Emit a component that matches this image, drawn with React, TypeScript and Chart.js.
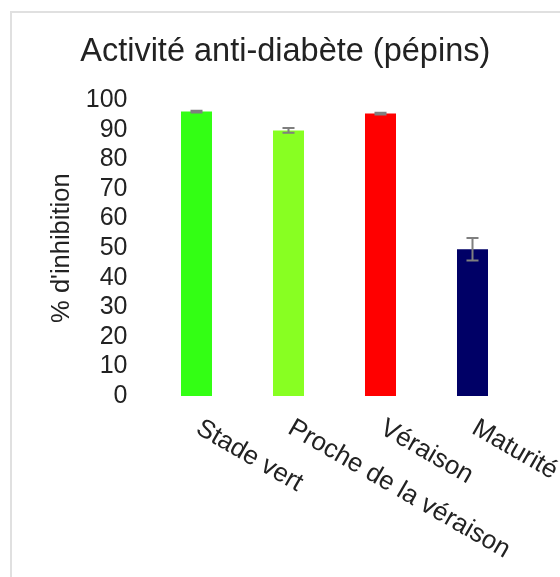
import { useEffect, useRef } from "react";
import { Chart, registerables } from "chart.js";

Chart.register(...registerables);

const categories = ["Stade vert", "Proche de la véraison", "Véraison", "Maturité"];
const inhibition = [96.2, 89.8, 95.5, 49.6];
const errors = [0.3, 0.8, 0.3, 3.8];
const barColors = ["#33FF14", "#88FF22", "#FF0000", "#000066"];
const yMin = 0;
const yMax = 100;
const yStep = 10;
const chartTitle = "Activité anti-diabète (pépins)";
const yTitle = "% d'inhibition";

const TEXT = "#222222";
const FONT = "Liberation Sans, Arial, sans-serif";

const errorBarPlugin = {
  id: "errorBars",
  afterDatasetsDraw(chart: any) {
    const ctx = chart.ctx;
    const xs = chart.scales.x;
    const ys = chart.scales.y;
    ctx.save();
    ctx.strokeStyle = "#7F7F7F";
    ctx.lineWidth = 2;
    inhibition.forEach((v, i) => {
      const x = xs.getPixelForValue(i);
      const yt = ys.getPixelForValue(v + errors[i]);
      const yb = ys.getPixelForValue(v - errors[i]);
      const cap = 6;
      ctx.beginPath();
      ctx.moveTo(x, yt);
      ctx.lineTo(x, yb);
      ctx.moveTo(x - cap, yt);
      ctx.lineTo(x + cap, yt);
      ctx.moveTo(x - cap, yb);
      ctx.lineTo(x + cap, yb);
      ctx.stroke();
    });
    ctx.restore();
  },
};

const xLabelPlugin = {
  id: "rotatedXLabels",
  afterDraw(chart: any) {
    const ctx = chart.ctx;
    const xs = chart.scales.x;
    const top = chart.chartArea.bottom + 19;
    ctx.save();
    ctx.fillStyle = TEXT;
    ctx.font = `26px ${FONT}`;
    ctx.textAlign = "left";
    ctx.textBaseline = "top";
    categories.forEach((label, i) => {
      const x = xs.getPixelForValue(i) + 8;
      ctx.save();
      ctx.translate(x, top);
      ctx.rotate(Math.PI / 6);
      ctx.fillText(label, 0, 0);
      ctx.restore();
    });
    ctx.restore();
  },
};

export default function App() {
  const ref = useRef<HTMLCanvasElement | null>(null);

  useEffect(() => {
    if (!ref.current) return;
    const chart = new Chart(ref.current, {
      type: "bar",
      data: {
        labels: categories,
        datasets: [
          {
            data: inhibition,
            backgroundColor: barColors,
            borderWidth: 0,
            categoryPercentage: 1,
            barPercentage: 0.337,
          },
        ],
      },
      options: {
        responsive: false,
        animation: false,
        layout: { padding: { left: 52, right: 41.5, top: 33, bottom: 181 } },
        plugins: {
          legend: { display: false },
          tooltip: { enabled: false },
          title: {
            display: true,
            text: chartTitle,
            color: TEXT,
            font: { family: FONT, size: 32.5, weight: "normal" },
            padding: { top: 0, bottom: 28.3 },
          },
        },
        scales: {
          x: {
            display: false,
          },
          y: {
            min: yMin,
            max: yMax,
            afterFit(scale: any) {
              scale.width = 98.5;
            },
            ticks: {
              stepSize: yStep,
              autoSkip: false,
              color: TEXT,
              padding: 23,
              font: { family: FONT, size: 25 },
            },
            grid: { display: false, drawTicks: false },
            border: { display: false },
            title: {
              display: true,
              text: yTitle,
              color: TEXT,
              padding: { top: -5, bottom: 0 },
              font: { family: FONT, size: 25.5 },
            },
          },
        },
      },
      plugins: [errorBarPlugin, xLabelPlugin],
    });
    return () => chart.destroy();
  }, []);

  return (
    <div style={{ position: "fixed", left: 0, top: 0, width: 560, height: 577, background: "#fff", overflow: "hidden" }}>
      <div
        style={{
          position: "absolute",
          left: 10,
          top: 11,
          right: 0,
          bottom: 0,
          borderLeft: "2px solid #E0E0E0",
          borderTop: "2px solid #E0E0E0",
        }}
      />
      <canvas ref={ref} width={560} height={577} style={{ position: "absolute", left: 0, top: 0 }} />
    </div>
  );
}
